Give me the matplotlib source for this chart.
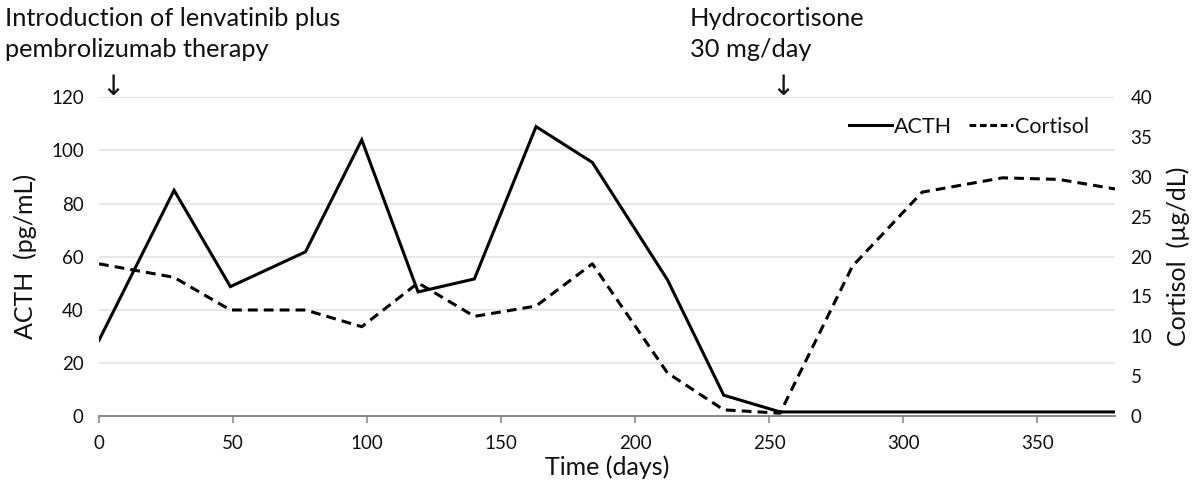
import matplotlib
matplotlib.use("Agg")
import matplotlib.pyplot as plt
from matplotlib.lines import Line2D

plt.rcParams['font.family'] = ['Lato', 'DejaVu Sans']

days = [0, 28, 49, 77, 98, 119, 140, 163, 184, 212, 233, 254, 281, 307, 337, 358, 379]
acth = [28.5, 85, 48.7, 61.8, 104, 46.7, 51.6, 109, 95.5, 51.3, 7.8, 1.5, 1.5, 1.5, 1.5, 1.5, 1.5]
cortisol = [19.1, 17.4, 13.3, 13.3, 11.2, 16.7, 12.5, 13.8, 19.1, 5.4, 0.76, 0.34, 18.8, 28.1, 29.9, 29.7, 28.5]

x_ticks = [0, 50, 100, 150, 200, 250, 300, 350]
left_ticks = [0, 20, 40, 60, 80, 100, 120]
right_ticks = [0, 5, 10, 15, 20, 25, 30, 35, 40]

fig = plt.figure(figsize=(12.03, 4.87), dpi=100)
ax = fig.add_axes([0.0823, 0.146, 0.8447, 0.654])
ax2 = ax.twinx()

lw = 2.2
ax.plot(days, acth, color='black', lw=lw, solid_joinstyle='miter', zorder=3)
ax2.plot(days, cortisol, color='black', lw=lw, dashes=(3.2, 2.0), zorder=3)

ax.set_xlim(0, 379)
ax.set_ylim(0, 120)
ax2.set_ylim(0, 40)
ax.set_xticks(x_ticks)
ax.set_yticks(left_ticks)
ax2.set_yticks(right_ticks)

ax.grid(axis='y', color='#e3e3e3', lw=1.2)
ax.set_axisbelow(True)
for a in (ax, ax2):
    for s in ('left', 'right', 'top'):
        a.spines[s].set_visible(False)
    a.spines['bottom'].set_color('#8a8a8a')
    a.spines['bottom'].set_linewidth(1.3)

tc = '#111111'
ax.tick_params(axis='x', length=5, width=1.2, color='#8a8a8a', labelsize=13.5, pad=9, labelcolor=tc)
ax.tick_params(axis='y', length=0, labelsize=13.5, pad=11, labelcolor=tc)
ax2.tick_params(axis='y', length=0, labelsize=13.5, pad=11, labelcolor=tc)

ax.set_xlabel('Time (days)', fontsize=18, labelpad=2, color=tc)
ax.set_ylabel('ACTH  (pg/mL)', fontsize=18, labelpad=10, color=tc)
ax2.set_ylabel('Cortisol  (\u00b5g/dL)', fontsize=18, rotation=90, labelpad=10, color=tc)

handles = [Line2D([], [], color='black', lw=lw),
           Line2D([], [], color='black', lw=lw, dashes=(2.2, 1.2))]
ax.legend(handles, ['ACTH', 'Cortisol'], ncol=2, frameon=False, fontsize=15.5,
          loc='upper right', bbox_to_anchor=(0.993, 1.0), handlelength=2.0,
          handletextpad=0.1, columnspacing=0.8, labelcolor=tc)

fig.text(5 / 1203, 1 - 7 / 487, 'Introduction of lenvatinib plus\npembrolizumab therapy',
         fontsize=18.3, va='top', ha='left', linespacing=1.42, color=tc)
fig.text(113 / 1203, 1 - 87 / 487, '\u2193', fontsize=20, ha='center', va='center',
         family=['DejaVu Sans'], color=tc)
fig.text(690 / 1203, 1 - 7 / 487, 'Hydrocortisone\n30 mg/day',
         fontsize=18.3, va='top', ha='left', linespacing=1.42, color=tc)
fig.text(783 / 1203, 1 - 87 / 487, '\u2193', fontsize=20, ha='center', va='center',
         family=['DejaVu Sans'], color=tc)

fig.savefig('out.png', dpi=100)
